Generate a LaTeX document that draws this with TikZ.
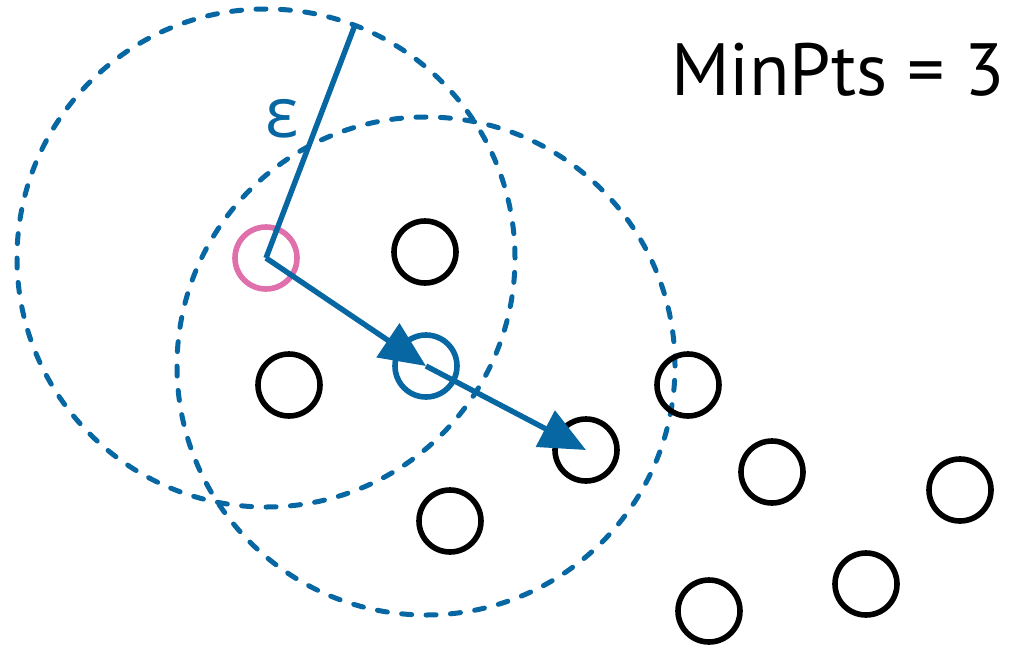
\documentclass[tikz,border=0pt]{standalone}
\usepackage{fontspec}
\setmainfont{PT Sans}
\newfontfamily\greekfont{Open Sans}
\usetikzlibrary{arrows.meta}
\definecolor{dbblue}{HTML}{0767A2}
\definecolor{dbpink}{HTML}{E070AC}
\tikzset{
  pt/.style={circle, draw=black, line width=5.6pt, minimum size=62pt, inner sep=0pt},
  core/.style={pt, draw=dbpink},
  border/.style={pt, draw=dbblue},
  reach/.style={circle, draw=dbblue, line width=5pt, minimum size=498pt, inner sep=0pt,
    dash pattern=on 10pt off 14.45pt, line cap=round},
  link/.style={draw=dbblue, line width=5.4pt},
  arr/.style={link, -{Triangle[length=46pt, width=40pt]}},
}
\begin{document}
\begin{tikzpicture}[x=1pt,y=-1pt]
\useasboundingbox (0,0) rectangle (1012,648);
% eps-neighbourhoods
\node[reach] (n1) at (266,258) {};
\node[reach] (n2) at (426,366) {};
% points
\node[core] (p) at (266,258) {};
\node[border] (q) at (426,366) {};
\node[pt] (a) at (425,252) {};
\node[pt] (b) at (289,385) {};
\node[pt] (c) at (450,521) {};
\node[pt] (d) at (586,450) {};
\node[pt] (e) at (688,385) {};
\node[pt] (f) at (772,472) {};
\node[pt] (g) at (960,490) {};
\node[pt] (h) at (866,584) {};
\node[pt] (i) at (709,611) {};
% radius
\coordinate (r) at (355,25);
\draw[link, line join=miter] (r) -- (p.center);
\node[text=dbblue, font=\greekfont\fontsize{70}{80}\selectfont] (eps) at (282,119) {ε};
% arrows
\draw[arr] (p.center) -- (q.center);
\draw[arr] (q.center) -- (d.center);
% label
\node[anchor=base east, font=\fontsize{74}{84}\selectfont, inner sep=0pt] (mp) at (1005,95) {MinPts = 3};
\end{tikzpicture}
\end{document}
